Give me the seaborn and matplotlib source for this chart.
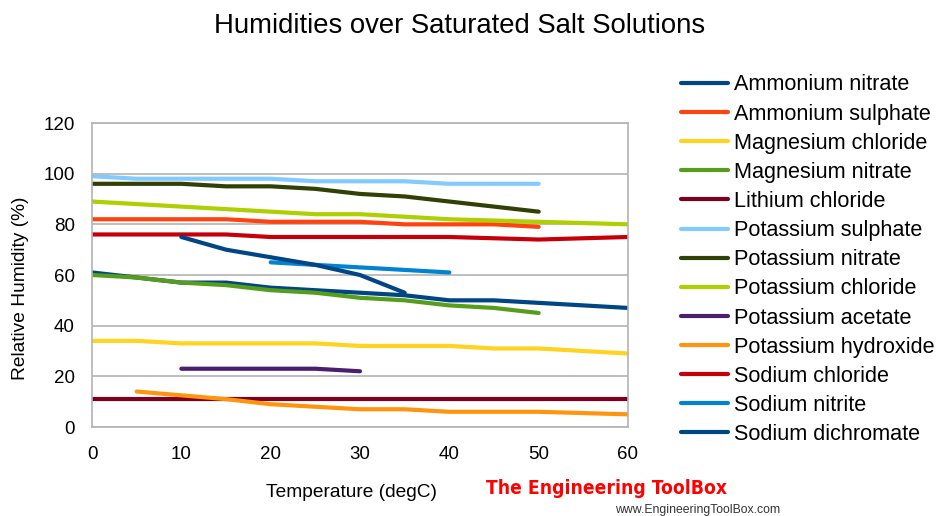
import numpy as np
import pandas as pd
import matplotlib
matplotlib.use("Agg")
import matplotlib.pyplot as plt
import seaborn as sns

temps = [0, 5, 10, 15, 20, 25, 30, 35, 40, 45, 50, 55, 60]

ammonium_nitrate = [61, 59, 57, 57, 55, 54, 53, 52, 50, 50, 49, 48, 47]
ammonium_sulphate = [82, 82, 82, 82, 81, 81, 81, 80, 80, 80, 79, None, None]
magnesium_chloride = [34, 34, 33, 33, 33, 33, 32, 32, 32, 31, 31, 30, 29]
magnesium_nitrate = [60, 59, 57, 56, 54, 53, 51, 50, 48, 47, 45, None, None]
lithium_chloride = [11, 11, 11, 11, 11, 11, 11, 11, 11, 11, 11, 11, 11]
potassium_sulphate = [99, 98, 98, 98, 98, 97, 97, 97, 96, 96, 96, None, None]
potassium_nitrate = [96, 96, 96, 95, 95, 94, 92, 91, 89, 87, 85, None, None]
potassium_chloride = [89, 88, 87, 86, 85, 84, 84, 83, 82, 81.5, 81, 80.5, 80]
potassium_acetate = [None, None, 23, 23, 23, 23, 22, None, None, None, None, None, None]
potassium_hydroxide = [None, 14, 12.5, 11, 9, 8, 7, 7, 6, 6, 6, 5.5, 5]
sodium_chloride = [76, 76, 76, 76, 75, 75, 75, 75, 75, 74.5, 74, 74.5, 75]
sodium_nitrite = [None, None, None, None, 65, 64, 63, 62, 61, None, None, None, None]
sodium_dichromate = [None, None, 75, 70, 67, 64, 60, 53, None, None, None, None, None]

series = {
    "Ammonium nitrate": ammonium_nitrate,
    "Ammonium sulphate": ammonium_sulphate,
    "Magnesium chloride": magnesium_chloride,
    "Magnesium nitrate": magnesium_nitrate,
    "Lithium chloride": lithium_chloride,
    "Potassium sulphate": potassium_sulphate,
    "Potassium nitrate": potassium_nitrate,
    "Potassium chloride": potassium_chloride,
    "Potassium acetate": potassium_acetate,
    "Potassium hydroxide": potassium_hydroxide,
    "Sodium chloride": sodium_chloride,
    "Sodium nitrite": sodium_nitrite,
    "Sodium dichromate": sodium_dichromate,
}
colors = ["#004586", "#ff420e", "#ffd320", "#579d1c", "#7e0021", "#83caff",
          "#314004", "#aecf00", "#4b1f6f", "#ff950e", "#c5000b", "#0084d1", "#004586"]
names = list(series.keys())
palette = dict(zip(names, colors))

rows = []
for name, vals in series.items():
    for t, v in zip(temps, vals):
        if v is not None:
            rows.append({"Temperature": t, "RH": v, "Salt": name})
df = pd.DataFrame(rows)

sns.set_style("white")
plt.rcParams['font.family'] = ['Liberation Sans', 'DejaVu Sans']
plt.rcParams['text.color'] = '#000000'
plt.rcParams['axes.labelcolor'] = '#000000'

fig = plt.figure(figsize=(9.36, 5.16), dpi=100)
ax = fig.add_axes([92/936, 1-427/516, (628-92)/936, (427-123)/516])

sns.lineplot(data=df, x="Temperature", y="RH", hue="Salt", hue_order=names,
             palette=palette, linewidth=3, ax=ax, legend=True, sort=True,
             estimator=None)

ax.set_xlim(0, 60)
ax.set_ylim(0, 120)
ax.set_xticks(range(0, 61, 10))
ax.set_yticks(range(0, 121, 20))
ax.yaxis.grid(True, color="#b3b3b3", linewidth=1.2)
ax.set_axisbelow(True)
for s in ax.spines.values():
    s.set_color("#b3b3b3")
    s.set_linewidth(1.2)
ax.tick_params(axis="both", which="both", direction="out", length=6.5, width=1.2,
               color="#b3b3b3", labelsize=13.5, labelcolor="#000000")
ax.tick_params(axis="y", pad=6)
ax.tick_params(axis="x", pad=7)
ax.set_xlabel("Temperature (degC)", fontsize=13.8, color="#000000")
ax.set_ylabel("Relative Humidity (%)", fontsize=13.8, color="#000000")
ax.xaxis.set_label_coords((351-92)/536, (427-484)/304)
ax.yaxis.set_label_coords((29-92)/536, (427-288)/304)

handles, labels = ax.get_legend_handles_labels()
ax.get_legend().remove()
leg = fig.legend(handles, labels, loc="upper left", bbox_to_anchor=(661/936, 1-55/516),
                 frameon=False, fontsize=15.6, handlelength=2.2, handletextpad=0.28,
                 labelspacing=0.375)
for t in leg.get_texts():
    t.set_color("#000000")

fig.text(460/936, 1-26/516, "Humidities over Saturated Salt Solutions",
         ha="center", va="center", fontsize=19.8, color="#000000")
fig.text(486/936, 1-488/516, "The Engineering ToolBox", ha="left", va="center",
         fontsize=13.8, color="#ff0000", fontweight="bold", fontstretch="condensed",
         family=["Liberation Sans Narrow", "DejaVu Sans"])
fig.text(780/936, 1-510/516, "www.EngineeringToolBox.com", ha="right", va="center",
         fontsize=8.8, color="#333333")

fig.savefig("out.png", dpi=100)
